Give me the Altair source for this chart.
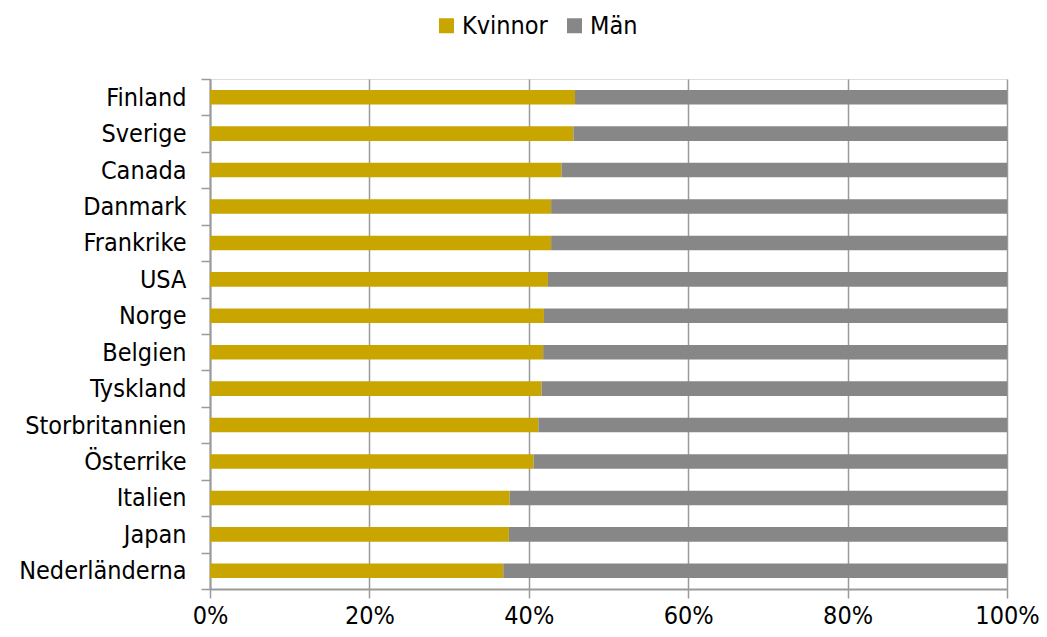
import altair as alt
import pandas as pd

countries = ["Finland", "Sverige", "Canada", "Danmark", "Frankrike", "USA", "Norge",
             "Belgien", "Tyskland", "Storbritannien", "Österrike", "Italien", "Japan",
             "Nederländerna"]
kvinnor = [45.8, 45.6, 44.1, 42.8, 42.8, 42.4, 41.9, 41.8, 41.6, 41.2, 40.6, 37.6, 37.5, 36.8]
man = [54.2, 54.4, 55.9, 57.2, 57.2, 57.6, 58.1, 58.2, 58.4, 58.8, 59.4, 62.4, 62.5, 63.2]
series = ["Kvinnor", "Män"]
colors = ["#C9A500", "#878787"]

rows = []
for c, k, m in zip(countries, kvinnor, man):
    rows.append({"land": c, "kon": series[0], "andel": k, "ord": 0})
    rows.append({"land": c, "kon": series[1], "andel": m, "ord": 1})
df = pd.DataFrame(rows)

FONT = "DejaVu Sans Condensed"
GRAY = "#9a9a9a"

chart = alt.Chart(df).mark_bar(height={"band": 0.4}).encode(
    y=alt.Y("land:N", sort=countries, title=None,
            scale=alt.Scale(paddingInner=0, paddingOuter=0),
            axis=alt.Axis(tickBand="extent", labelFontSize=25, labelFont=FONT,
                          labelColor="#000000", labelPadding=15, tickSize=9,
                          tickColor=GRAY, domainColor=GRAY,
                          domainWidth=2, tickWidth=1.5, grid=False)),
    x=alt.X("andel:Q", stack="normalize", title=None,
            scale=alt.Scale(domain=[0, 1], nice=False),
            axis=alt.Axis(format=".0%", values=[0, 0.2, 0.4, 0.6, 0.8, 1.0],
                          labelFontSize=25, labelFont=FONT, labelColor="#000000",
                          tickSize=9, tickColor=GRAY, domainColor=GRAY,
                          domainWidth=2, tickWidth=1.5, labelPadding=5,
                          grid=True, gridColor=GRAY, gridWidth=1.5,
                          labelFlush=False)),
    color=alt.Color("kon:N", sort=series,
                    scale=alt.Scale(domain=series, range=colors),
                    legend=alt.Legend(title=None, orient="none", direction="horizontal",
                                      legendX=224, legendY=-66, symbolType="square",
                                      symbolSize=225, symbolStrokeWidth=0,
                                      labelFontSize=25, labelFont=FONT,
                                      labelColor="#000000", columnPadding=14,
                                      labelOffset=3)),
    order=alt.Order("ord:Q", sort="ascending"),
).properties(
    width=797, height=510,
    autosize=alt.AutoSizeParams(type="none"),
    padding={"left": 202, "top": 71, "right": 32, "bottom": 40},
).configure_view(stroke="transparent", strokeWidth=0).configure(background="#ffffff")

chart.save("out.html", embed_options={"renderer": "svg", "actions": False})
